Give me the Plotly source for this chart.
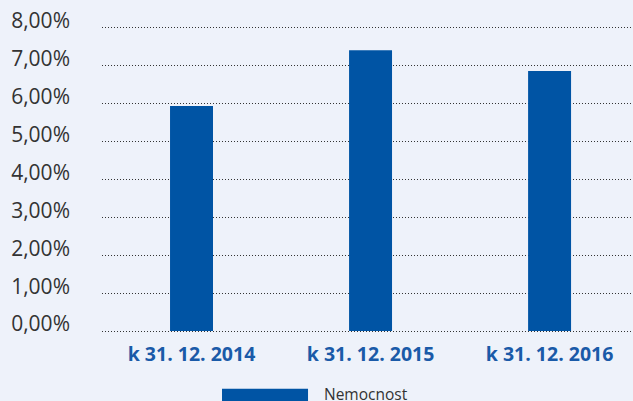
import plotly.graph_objects as go

categories = ["k 31. 12. 2014", "k 31. 12. 2015", "k 31. 12. 2016"]
values = [5.94, 7.41, 6.86]
series_name = "Nemocnost"
y_ticks = [0, 1, 2, 3, 4, 5, 6, 7, 8]
y_tick_labels = ["0,00%", "1,00%", "2,00%", "3,00%", "4,00%", "5,00%", "6,00%", "7,00%", "8,00%"]

BAR = "#0054A4"
BG = "#EEF2FA"

fig = go.Figure()
fig.add_trace(go.Bar(x=list(range(len(categories))), y=values, name=series_name,
                     marker=dict(color=BAR, line=dict(width=0)), width=0.24,
                     showlegend=False))

fig.update_layout(
    width=633, height=401,
    margin=dict(l=102, r=0, t=26, b=68),
    paper_bgcolor=BG, plot_bgcolor=BG,
    font=dict(family="Open Sans", color="#333333"),
    showlegend=False,
)
fig.update_xaxes(
    range=[-0.5, 2.466], tickvals=list(range(len(categories))), ticktext=categories,
    showgrid=False, zeroline=False, showline=False, ticks="",
    tickfont=dict(family="Open Sans", size=19.5, color="#1A5AA8", weight="bold"),
    ticklabelstandoff=7,
)
fig.update_yaxes(
    range=[-0.05, 8.05], tickvals=y_ticks, ticktext=y_tick_labels,
    showgrid=True, gridcolor="#333333", griddash="1px,2px", gridwidth=1,
    zeroline=False, showline=False, ticks="",
    tickfont=dict(family="Open Sans", size=21, color="#333333"),
    ticklabelstandoff=31, ticklabelshift=-7,
)

# legend drawn as swatch + label below the plot
fig.add_shape(type="rect", xref="paper", yref="paper",
              x0=0.226, x1=0.388, y0=-0.2244, y1=-0.1815,
              fillcolor=BAR, line=dict(width=0))
fig.add_annotation(text=series_name, xref="paper", yref="paper",
                   x=0.414, y=-0.199, xanchor="left", yanchor="middle",
                   showarrow=False, font=dict(family="Open Sans", size=15.5, color="#333333"))

fig.write_html("out.html", config={"displayModeBar": False},
               post_script="document.body.style.margin='0';")
